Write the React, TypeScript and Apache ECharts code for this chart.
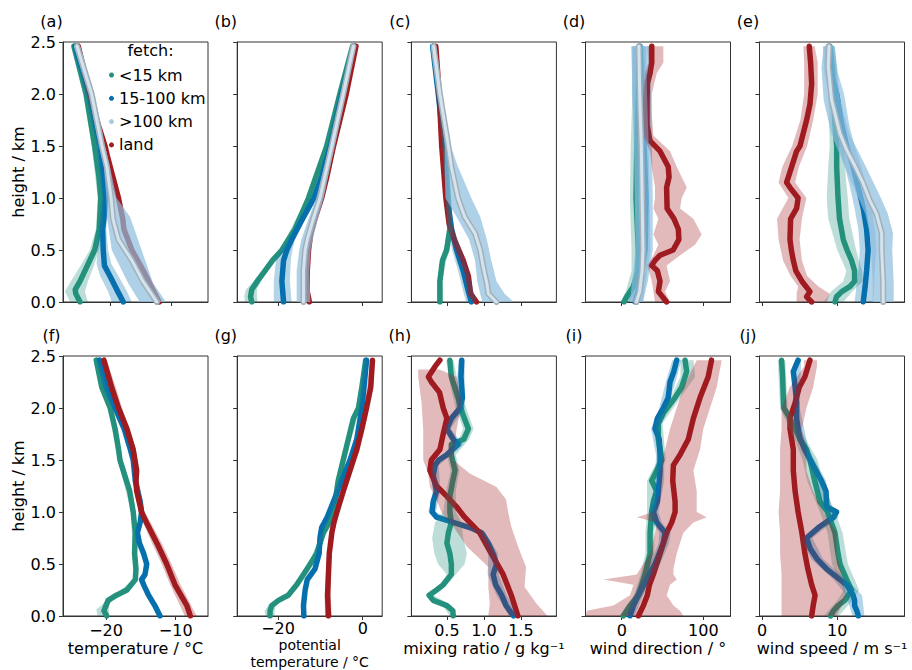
import React, { useEffect, useRef } from "react";
import * as echarts from "echarts";

type Pts = [number, number][]; // [x value, height km]
type Band = [number, number, number][]; // [height km, low, high]

// ---------- text / axes ----------
const panelLabels = ["(a)", "(b)", "(c)", "(d)", "(e)", "(f)", "(g)", "(h)", "(i)", "(j)"];
const heightTicks = [0, 0.5, 1, 1.5, 2, 2.5];
const xTitles = [
  "temperature / °C",
  "potential\ntemperature / °C",
  "mixing ratio / g kg⁻¹",
  "wind direction / °",
  "wind speed / m s⁻¹",
];
const xTickValues = [[-20, -10], [-20, 0], [0.5, 1, 1.5], [0, 100], [0, 10]];
const xRangesTop = [[-27.7, -3.9], [-29.65, 4.6], [0.02, 1.98], [-44.4, 133.3], [-0.33, 18.93]];
const xRangesBottom = [[-26.17, -5.37], [-29.65, 4.6], [0.02, 1.98], [-44.4, 133.3], [-0.33, 18.93]];
const legendNames = ["<15 km", "15-100 km", ">100 km", "land"];

// ---------- (a) temperature, top row ----------
const aGreen: Pts = [[-24.9, 0], [-25.6, 0.08], [-25.7, 0.12], [-24.9, 0.2], [-23.7, 0.35], [-22.5, 0.5], [-21.75, 0.7], [-21.5, 1.0], [-21.8, 1.2], [-22.5, 1.5], [-23.9, 2.0], [-25.9, 2.46]];
const aBlue: Pts = [[-17.8, 0], [-18.7, 0.1], [-20.0, 0.25], [-20.9, 0.35], [-21.1, 0.5], [-21.2, 0.7], [-21.0, 0.8], [-20.7, 1.0], [-21.0, 1.2], [-21.6, 1.5], [-23.4, 2.0], [-25.7, 2.46]];
const aFar: Pts = [[-12.3, 0], [-14.6, 0.2], [-16.4, 0.4], [-18.6, 0.6], [-19.5, 0.8], [-19.8, 1.0], [-20.5, 1.3], [-21.3, 1.5], [-23.0, 2.0], [-25.4, 2.46]];
const aLand: Pts = [[-11.9, 0], [-12.8, 0.1], [-14.5, 0.3], [-16.4, 0.5], [-17.7, 0.7], [-17.9, 0.8], [-18.6, 1.0], [-19.5, 1.2], [-20.4, 1.4], [-20.8, 1.5], [-21.9, 1.7], [-23.3, 2.0], [-25.2, 2.46]];
const aGreenBand: Band = [[0, -26.5, -23.6], [0.1, -27.4, -24.1], [0.2, -26.4, -23.6], [0.35, -24.8, -22.6], [0.5, -23.3, -21.8], [0.7, -22.3, -21.2], [1.0, -22.0, -21.0], [1.5, -23.0, -22.0], [2.0, -24.4, -23.4], [2.46, -26.4, -25.4]];
const aBlueBand: Band = [[0, -19.7, -16.4], [0.1, -20.3, -17.2], [0.25, -21.6, -18.6], [0.37, -22.2, -19.8], [0.5, -22.0, -20.3], [0.7, -21.9, -20.6], [1.0, -21.3, -20.1], [1.5, -22.2, -21.0], [2.0, -24.0, -22.8], [2.46, -26.2, -25.2]];
const aFarBand: Band = [[0, -15.1, -10.8], [0.18, -17.0, -12.9], [0.5, -19.7, -14.8], [0.82, -20.5, -16.7], [1.0, -20.6, -18.9], [1.3, -21.0, -20.0], [1.5, -21.8, -20.8], [2.0, -23.5, -22.5], [2.46, -25.9, -24.9]];

// ---------- (b) potential temperature, top row ----------
const bGreen: Pts = [[-26.2, 0], [-26.5, 0.05], [-26.2, 0.12], [-24.9, 0.2], [-23.1, 0.3], [-21.3, 0.4], [-19.1, 0.5], [-16.0, 0.7], [-12.8, 1.0], [-8.5, 1.5], [-5.4, 2.0], [-2.4, 2.46]];
const bBlue: Pts = [[-18.7, 0], [-19.1, 0.2], [-18.7, 0.4], [-17.9, 0.5], [-16.8, 0.6], [-14.2, 0.8], [-11.5, 1.0], [-9.7, 1.2], [-7.7, 1.5], [-5.0, 2.0], [-2.05, 2.46]];
const bFar: Pts = [[-14.0, 0], [-14.0, 0.3], [-13.6, 0.5], [-13.1, 0.6], [-11.7, 0.8], [-10.1, 1.0], [-7.3, 1.5], [-4.6, 2.0], [-2.2, 2.46]];
const bLand: Pts = [[-12.6, 0], [-13.1, 0.1], [-13.1, 0.3], [-12.8, 0.5], [-12.3, 0.65], [-11.3, 0.8], [-9.7, 1.0], [-8.5, 1.2], [-6.9, 1.5], [-3.9, 2.0], [-1.6, 2.46]];
const bGreenBand: Band = [[0, -27.8, -24.8], [0.05, -28.0, -25.0], [0.12, -27.6, -25.0], [0.2, -25.8, -24.0], [0.3, -23.8, -22.4], [0.5, -19.6, -18.6], [1.0, -13.2, -12.4], [1.5, -8.9, -8.1], [2.0, -5.8, -5.0], [2.46, -2.8, -2.0]];
const bBlueBand: Band = [[0, -21.0, -16.8], [0.2, -21.0, -17.2], [0.4, -20.5, -17.0], [0.5, -19.3, -16.6], [0.6, -17.6, -16.0], [0.8, -14.7, -13.7], [1.0, -12.0, -11.0], [1.5, -8.2, -7.2], [2.0, -5.5, -4.5], [2.46, -2.5, -1.6]];
const bFarBand: Band = [[0, -15.6, -12.4], [0.3, -15.6, -12.6], [0.5, -15.0, -12.3], [0.6, -14.5, -11.8], [0.8, -12.8, -10.6], [1.0, -11.0, -9.2], [1.5, -7.9, -6.7], [2.0, -5.1, -4.1], [2.46, -2.7, -1.7]];

// ---------- (c) mixing ratio, top row ----------
const cGreen: Pts = [[0.405, 0], [0.405, 0.2], [0.44, 0.4], [0.496, 0.5], [0.54, 0.7], [0.518, 1.0], [0.473, 1.5], [0.396, 2.0], [0.315, 2.46]];
const cBlue: Pts = [[0.83, 0], [0.79, 0.1], [0.72, 0.3], [0.63, 0.5], [0.563, 0.7], [0.505, 1.0], [0.46, 1.5], [0.383, 2.0], [0.307, 2.46]];
const cFar: Pts = [[1.17, 0], [1.06, 0.08], [1.04, 0.18], [0.99, 0.34], [0.95, 0.5], [0.88, 0.66], [0.74, 0.82], [0.65, 1.0], [0.56, 1.3], [0.52, 1.5], [0.405, 2.0], [0.32, 2.46]];
const cLand: Pts = [[0.9, 0], [0.82, 0.08], [0.79, 0.25], [0.72, 0.4], [0.6, 0.6], [0.53, 0.75], [0.486, 1.0], [0.43, 1.5], [0.396, 2.0], [0.35, 2.46]];
const cGreenBand: Band = [[0, 0.37, 0.45], [0.2, 0.37, 0.44], [0.4, 0.41, 0.49], [0.5, 0.46, 0.54], [0.7, 0.5, 0.58], [1.0, 0.49, 0.55], [1.5, 0.44, 0.51], [2.0, 0.37, 0.43], [2.46, 0.29, 0.34]];
const cBlueBand: Band = [[0, 0.76, 0.9], [0.1, 0.72, 0.86], [0.3, 0.65, 0.79], [0.5, 0.57, 0.69], [0.7, 0.52, 0.6], [1.0, 0.48, 0.53], [1.5, 0.44, 0.48], [2.0, 0.36, 0.4], [2.46, 0.29, 0.33]];
const cFarBand: Band = [[0, 0.98, 1.4], [0.08, 0.95, 1.28], [0.2, 0.91, 1.17], [0.4, 0.88, 1.1], [0.6, 0.8, 1.04], [0.82, 0.63, 0.95], [1.0, 0.48, 0.83], [1.3, 0.47, 0.65], [1.5, 0.47, 0.55], [1.7, 0.44, 0.5], [2.0, 0.38, 0.44], [2.46, 0.3, 0.35]];

// ---------- (d) wind direction, top row ----------
const dGreen: Pts = [[2.8, 0], [6.1, 0.05], [14.3, 0.15], [20, 0.3], [20.4, 0.5], [17.5, 1.0], [18.4, 1.5], [20.4, 2.0], [21.6, 2.46]];
const dBlue: Pts = [[16.3, 0], [20.4, 0.1], [24.5, 0.3], [28.6, 0.5], [29.8, 1.0], [27.3, 1.5], [24.5, 2.0], [22.4, 2.46]];
const dFar: Pts = [[18, 0], [22, 0.1], [25, 0.3], [26, 0.5], [25, 1.0], [24, 1.5], [22, 2.0], [21, 2.46]];
const dLand: Pts = [[55, 0], [44.9, 0.1], [46.9, 0.2], [43.7, 0.3], [36.8, 0.35], [40.8, 0.4], [47, 0.45], [63, 0.5], [70, 0.6], [69.4, 0.7], [64, 0.8], [55.6, 0.9], [55, 1.1], [58, 1.2], [57, 1.3], [46.9, 1.45], [34.7, 1.55], [31, 1.7], [31, 1.9], [31.4, 2.1], [34.7, 2.2], [36.8, 2.3], [36.8, 2.46]];
const dGreenBand: Band = [[0, -2, 8], [0.1, 5, 20], [0.3, 12, 27], [0.5, 12, 28], [1.0, 10, 26], [1.5, 11, 27], [2.0, 13, 28], [2.46, 14, 29]];
const dBlueBand: Band = [[0, 8, 26], [0.2, 14, 32], [0.5, 18, 38], [1.0, 19, 38], [1.5, 16, 37], [2.0, 13, 36], [2.46, 12, 34]];
const dFarBand: Band = [[0, 10, 26], [0.5, 17, 35], [1.0, 16, 34], [1.5, 15, 33], [2.0, 13, 31], [2.46, 12, 30]];
const dLandBand: Band = [[0, 40.8, 59.2], [0.1, 38.8, 53], [0.2, 36.8, 59.2], [0.35, 31.4, 55], [0.45, 38.8, 71.5], [0.55, 44.9, 89.8], [0.65, 38.8, 98], [0.8, 44.9, 87.8], [0.9, 38.8, 71.5], [1.0, 40.8, 73.5], [1.1, 40.8, 79.7], [1.3, 36.8, 67.4], [1.45, 34.7, 59.2], [1.6, 26.5, 38.8], [1.8, 24.5, 36.8], [2.0, 26.5, 36.8], [2.2, 28.6, 42.9], [2.3, 32.6, 51], [2.46, 31.4, 51]];

// ---------- (e) wind speed, top row ----------
const eGreen: Pts = [[9.7, 0], [9.9, 0.05], [10.6, 0.1], [11.7, 0.15], [12.3, 0.2], [12.3, 0.3], [11.9, 0.4], [11.3, 0.5], [10.8, 0.6], [10.3, 0.8], [10.1, 1.0], [9.92, 1.3], [9.92, 1.5], [9.7, 1.7], [9.47, 2.0], [9.4, 2.2], [9.03, 2.46]];
const eBlue: Pts = [[13.45, 0], [13.7, 0.15], [13.9, 0.3], [14.1, 0.5], [13.9, 0.7], [13.45, 0.9], [12.8, 1.1], [12.1, 1.3], [11.25, 1.5], [10.6, 1.7], [9.92, 2.0], [9.2, 2.2], [8.85, 2.46]];
const eFar: Pts = [[16.1, 0], [16.1, 0.18], [15.9, 0.5], [15.9, 0.66], [15.2, 0.85], [14.3, 0.98], [13.45, 1.14], [12.4, 1.3], [11.25, 1.46], [10.36, 1.62], [9.25, 1.94], [8.8, 2.26], [8.9, 2.46]];
const eLand: Pts = [[6.6, 0], [5.93, 0.05], [6.37, 0.1], [5.3, 0.2], [4.5, 0.3], [4.16, 0.4], [3.9, 0.5], [3.72, 0.6], [3.8, 0.8], [4.6, 0.9], [4.8, 1.0], [3.72, 1.1], [3.27, 1.15], [3.5, 1.2], [4.16, 1.35], [4.6, 1.45], [5.05, 1.5], [5.4, 1.6], [5.93, 1.75], [6.37, 1.9], [6.6, 2.1], [6.46, 2.3], [6.28, 2.46]];
const eGreenBand: Band = [[0, 8.2, 10.8], [0.1, 9.2, 12.0], [0.2, 10.8, 13.4], [0.3, 11.2, 13.3], [0.5, 10.0, 12.5], [0.8, 8.8, 11.6], [1.0, 8.6, 11.4], [1.3, 8.8, 11.0], [1.5, 9.0, 10.9], [2.0, 8.8, 10.2], [2.46, 8.4, 9.7]];
const eBlueBand: Band = [[0, 12.3, 14.8], [0.3, 12.8, 15.0], [0.5, 13.0, 15.2], [0.7, 12.8, 15.0], [0.9, 12.3, 14.6], [1.1, 11.7, 13.9], [1.3, 11.0, 13.2], [1.5, 10.2, 12.3], [1.7, 9.6, 11.6], [2.0, 8.9, 10.9], [2.2, 8.3, 10.1], [2.46, 8.1, 9.6]];
const eFarBand: Band = [[0, 14.7, 17.5], [0.18, 14.7, 17.5], [0.5, 14.5, 17.3], [0.66, 14.3, 17.4], [0.85, 13.7, 16.7], [1.0, 12.8, 15.8], [1.3, 11.0, 13.8], [1.62, 9.2, 11.6], [1.94, 8.2, 10.4], [2.26, 7.9, 9.8], [2.46, 8.2, 9.6]];
const eLandBand: Band = [[0, 4.6, 8.6], [0.08, 4.6, 9.0], [0.15, 4.8, 7.5], [0.25, 3.8, 6.0], [0.4, 2.8, 5.3], [0.6, 2.2, 5.0], [0.8, 2.0, 5.3], [1.0, 3.5, 5.9], [1.15, 2.2, 4.4], [1.3, 2.7, 4.9], [1.5, 4.0, 6.0], [1.75, 5.1, 6.8], [2.0, 5.6, 7.4], [2.3, 5.6, 7.4], [2.46, 5.5, 7.0]];

// ---------- (f) temperature, bottom row ----------
const fGreen: Pts = [[-19.9, 0], [-20.3, 0.05], [-20.0, 0.1], [-19.7, 0.15], [-18.5, 0.2], [-17.0, 0.25], [-15.8, 0.35], [-15.7, 0.45], [-15.9, 0.6], [-15.8, 0.8], [-16.1, 1.0], [-16.6, 1.2], [-17.3, 1.35], [-18.0, 1.5], [-18.2, 1.6], [-18.7, 1.8], [-19.4, 2.0], [-20.6, 2.2], [-21.4, 2.46]];
const fBlue: Pts = [[-12.25, 0], [-13.0, 0.1], [-13.9, 0.2], [-14.6, 0.3], [-14.9, 0.35], [-14.4, 0.4], [-14.16, 0.5], [-14.6, 0.6], [-15.2, 0.7], [-15.5, 0.8], [-15.1, 0.9], [-14.9, 1.0], [-15.1, 1.1], [-15.8, 1.3], [-16.1, 1.5], [-16.5, 1.6], [-17.4, 1.8], [-18.7, 2.0], [-20.0, 2.2], [-20.95, 2.46]];
const fLand: Pts = [[-7.9, 0], [-8.4, 0.1], [-10.1, 0.3], [-11.3, 0.5], [-12.7, 0.7], [-14.2, 0.9], [-14.9, 1.0], [-15.6, 1.2], [-15.7, 1.3], [-15.6, 1.4], [-16.1, 1.6], [-17.0, 1.8], [-18.2, 2.0], [-19.2, 2.2], [-20.3, 2.46]];
const fGreenBand: Band = [[0, -21.2, -19.5], [0.06, -21.4, -19.6], [0.12, -20.4, -19.5], [0.2, -18.8, -18.2], [0.35, -16.1, -15.5], [0.6, -16.2, -15.6], [1.0, -16.4, -15.8], [1.5, -18.3, -17.7], [2.0, -19.7, -19.1], [2.46, -21.7, -21.1]];
const fLandBand: Band = [[0, -8.7, -7.0], [0.3, -10.8, -9.3], [0.5, -12.0, -10.6], [0.7, -13.4, -12.0], [0.9, -14.7, -13.6], [1.0, -15.3, -14.5], [1.3, -16.1, -15.3], [1.6, -16.5, -15.7], [2.0, -18.6, -17.7], [2.2, -19.6, -18.6], [2.46, -20.7, -19.9]];

// ---------- (g) potential temperature, bottom row ----------
const gGreen: Pts = [[-21.9, 0], [-21.9, 0.05], [-21.5, 0.1], [-19.9, 0.15], [-17.6, 0.2], [-15.6, 0.3], [-14.0, 0.4], [-12.4, 0.5], [-10.9, 0.6], [-9.3, 0.8], [-7.9, 0.9], [-6.5, 1.1], [-5.8, 1.3], [-4.6, 1.5], [-3.4, 1.7], [-2.2, 1.9], [-1.0, 2.0], [-0.2, 2.2], [0.7, 2.46]];
const gBlue: Pts = [[-13.9, 0], [-14.0, 0.1], [-13.6, 0.25], [-13.1, 0.35], [-11.3, 0.45], [-10.3, 0.6], [-10.1, 0.75], [-9.7, 0.85], [-8.4, 0.95], [-6.9, 1.1], [-5.0, 1.3], [-3.0, 1.5], [-1.4, 1.7], [-0.2, 2.0], [0.3, 2.2], [0.9, 2.46]];
const gLand: Pts = [[-8.1, 0], [-8.3, 0.2], [-8.1, 0.4], [-7.9, 0.6], [-7.3, 0.8], [-6.8, 0.9], [-6.1, 1.0], [-4.6, 1.2], [-3.0, 1.4], [-1.4, 1.6], [-0.2, 1.8], [0.9, 2.0], [1.9, 2.2], [2.3, 2.46]];
const gGreenBand: Band = [[0, -23.0, -20.8], [0.05, -23.2, -20.8], [0.1, -22.3, -20.6], [0.15, -20.4, -19.4], [0.2, -18.0, -17.2], [0.5, -12.8, -12.0], [1.0, -7.6, -6.8], [1.5, -5.0, -4.2], [2.0, -1.4, -0.6], [2.46, 0.3, 1.1]];
const gLandBand: Band = [[0, -8.9, -7.3], [0.2, -9.0, -7.6], [0.4, -8.7, -7.5], [0.6, -8.4, -7.4], [0.8, -7.8, -6.8], [1.0, -6.6, -5.6], [1.4, -3.5, -2.5], [2.0, 0.4, 1.4], [2.46, 1.8, 2.8]];

// ---------- (h) mixing ratio, bottom row ----------
const hGreen: Pts = [[0.585, 0], [0.58, 0.05], [0.5, 0.1], [0.315, 0.15], [0.26, 0.2], [0.36, 0.25], [0.45, 0.3], [0.56, 0.4], [0.56, 0.5], [0.54, 0.6], [0.5, 0.7], [0.52, 0.8], [0.56, 0.9], [0.54, 1.0], [0.54, 1.15], [0.58, 1.3], [0.61, 1.4], [0.56, 1.55], [0.56, 1.65], [0.73, 1.7], [0.79, 1.8], [0.71, 1.95], [0.65, 2.1], [0.56, 2.3], [0.54, 2.46]];
const hBlue: Pts = [[1.4, 0], [1.3, 0.1], [1.24, 0.2], [1.16, 0.3], [1.125, 0.4], [1.17, 0.5], [1.125, 0.6], [1.06, 0.7], [0.97, 0.8], [0.81, 0.85], [0.585, 0.9], [0.36, 0.95], [0.3, 1.0], [0.315, 1.1], [0.36, 1.2], [0.315, 1.35], [0.34, 1.45], [0.39, 1.5], [0.5, 1.55], [0.65, 1.65], [0.585, 1.7], [0.5, 1.8], [0.56, 1.9], [0.68, 2.0], [0.71, 2.1], [0.69, 2.3], [0.7, 2.46]];
const hLand: Pts = [[1.46, 0], [1.37, 0.2], [1.26, 0.4], [1.1, 0.6], [0.945, 0.8], [0.74, 0.95], [0.63, 1.05], [0.5, 1.15], [0.36, 1.25], [0.27, 1.4], [0.29, 1.5], [0.405, 1.6], [0.45, 1.75], [0.5, 1.9], [0.45, 2.0], [0.4, 2.15], [0.29, 2.25], [0.25, 2.3], [0.34, 2.4], [0.405, 2.46]];
const hGreenBand: Band = [[0, 0.54, 0.63], [0.1, 0.44, 0.56], [0.2, 0.22, 0.32], [0.3, 0.4, 0.5], [0.4, 0.5, 0.62], [0.5, 0.38, 0.74], [0.6, 0.33, 0.77], [0.75, 0.3, 0.72], [0.9, 0.34, 0.7], [1.0, 0.45, 0.62], [1.2, 0.49, 0.62], [1.4, 0.55, 0.67], [1.55, 0.5, 0.62], [1.7, 0.66, 0.8], [1.8, 0.72, 0.86], [2.0, 0.62, 0.76], [2.2, 0.55, 0.66], [2.46, 0.49, 0.59]];
const hBlueBand: Band = [[0, 1.34, 1.46], [0.2, 1.17, 1.31], [0.4, 1.05, 1.2], [0.6, 1.06, 1.19], [0.8, 0.92, 1.02], [0.85, 0.76, 0.86], [0.9, 0.53, 0.64], [1.0, 0.25, 0.35], [1.2, 0.31, 0.41], [1.45, 0.29, 0.39], [1.55, 0.44, 0.56], [1.65, 0.58, 0.72], [1.8, 0.45, 0.55], [2.0, 0.62, 0.74], [2.3, 0.64, 0.74], [2.46, 0.66, 0.74]];
const hLandBand: Band = [[0, 1.06, 1.86], [0.12, 1.08, 1.71], [0.28, 1.06, 1.55], [0.47, 1.06, 1.57], [0.67, 0.766, 1.46], [0.86, 0.585, 1.37], [0.99, 0.43, 1.33], [1.12, 0.36, 1.3], [1.24, 0.27, 1.17], [1.37, 0.247, 0.81], [1.5, 0.18, 0.585], [1.79, 0.18, 0.63], [2.05, 0.157, 0.7], [2.3, 0.112, 0.63], [2.37, 0.112, 0.4]];

// ---------- (i) wind direction, bottom row ----------
const iGreen: Pts = [[2, 0], [10.2, 0.1], [20.4, 0.2], [28.5, 0.4], [34.7, 0.6], [34.7, 0.8], [36.7, 1.0], [38.8, 1.1], [42.9, 1.2], [36.7, 1.3], [42.9, 1.4], [49, 1.5], [44.9, 1.7], [44.9, 1.85], [51, 1.95], [65.4, 2.1], [73.5, 2.2], [79.6, 2.35], [77.6, 2.46]];
const iBlue: Pts = [[10.2, 0], [14.3, 0.1], [20.4, 0.2], [30.6, 0.35], [40.8, 0.5], [51, 0.7], [53, 0.8], [42.9, 0.9], [38.8, 1.0], [43.7, 1.1], [46, 1.3], [47, 1.4], [47, 1.55], [46, 1.7], [40.8, 1.8], [43.7, 1.9], [51, 2.0], [57, 2.1], [59.2, 2.25], [63.8, 2.35], [67.4, 2.46]];
const iLand: Pts = [[20.4, 0], [26.5, 0.1], [31.4, 0.2], [34, 0.3], [38.8, 0.4], [47, 0.6], [55.1, 0.8], [61.3, 0.9], [65.4, 1.0], [65.4, 1.1], [62.5, 1.3], [63.3, 1.45], [71.5, 1.55], [81.6, 1.7], [87.8, 1.9], [96, 2.1], [106, 2.3], [110, 2.46]];
const iGreenBand: Band = [[0, -3, 7], [0.2, 15, 26], [0.4, 23, 34], [0.6, 29, 40], [0.8, 29, 40], [1.0, 31, 42], [1.3, 31, 42], [1.5, 44, 54], [1.85, 40, 50], [2.1, 60, 72], [2.3, 72, 90], [2.46, 72, 88]];
const iBlueBand: Band = [[0, 5, 16], [0.2, 15, 26], [0.5, 35, 47], [0.7, 45, 58], [0.8, 46, 60], [0.9, 37, 49], [1.0, 33, 45], [1.3, 41, 52], [1.55, 42, 52], [1.8, 36, 46], [2.0, 46, 56], [2.25, 54, 66], [2.46, 62, 73]];
const iLandBand: Band = [[0, -44, 75.5], [0.05, -42.9, 71.5], [0.1, -10.3, 63.3], [0.2, 10.2, 55.1], [0.3, 14.3, 59.2], [0.35, -22.5, 67.4], [0.4, 18.4, 63.3], [0.45, 22.4, 63.3], [0.6, 34.7, 67.4], [0.8, 40.8, 75.5], [0.9, 42.9, 87.8], [0.95, 18.4, 104.1], [1.0, 38.8, 91.9], [1.2, 47, 91.9], [1.4, 47, 87.8], [1.6, 53, 96], [1.8, 59.2, 100], [2.0, 67.4, 108.2], [2.2, 75.5, 116.4], [2.46, 91.9, 122.5]];

// ---------- (j) wind speed, bottom row ----------
const jGreen: Pts = [[9.1, 0], [9.5, 0.05], [10.1, 0.1], [11.0, 0.15], [11.9, 0.25], [11.25, 0.35], [10.36, 0.5], [10.1, 0.6], [9.7, 0.8], [9.2, 0.9], [8.7, 1.0], [7.7, 1.1], [7.0, 1.3], [6.37, 1.5], [5.93, 1.6], [5.05, 1.7], [4.4, 1.8], [3.72, 1.9], [2.9, 2.0], [2.83, 2.1], [2.74, 2.3], [2.6, 2.46]];
const jBlue: Pts = [[12.8, 0], [12.6, 0.05], [12.3, 0.1], [12.3, 0.15], [12.1, 0.2], [11.25, 0.3], [10.36, 0.35], [8.6, 0.45], [7.3, 0.55], [6.4, 0.65], [5.93, 0.75], [7.5, 0.85], [9.5, 0.95], [9.9, 1.0], [8.6, 1.05], [8.5, 1.2], [7.9, 1.3], [6.8, 1.45], [5.7, 1.6], [5.05, 1.7], [4.8, 1.8], [4.6, 1.9], [4.6, 2.05], [4.4, 2.2], [4.16, 2.35], [4.8, 2.46]];
const jLand: Pts = [[6.6, 0], [6.8, 0.1], [7.05, 0.2], [6.6, 0.3], [6.1, 0.45], [5.7, 0.6], [5.3, 0.8], [4.8, 1.0], [4.4, 1.2], [4.16, 1.4], [4.16, 1.6], [3.72, 1.8], [3.72, 1.9], [4.4, 2.05], [4.95, 2.2], [5.7, 2.3], [6.37, 2.46]];
const jGreenBand: Band = [[0, 8.2, 10.2], [0.15, 10.0, 12.0], [0.25, 10.9, 12.9], [0.5, 9.3, 11.4], [0.8, 8.7, 10.7], [1.0, 7.7, 9.7], [1.3, 6.0, 8.0], [1.5, 5.4, 7.4], [1.7, 4.3, 5.8], [2.0, 2.4, 3.4], [2.46, 2.1, 3.1]];
const jBlueBand: Band = [[0, 12.0, 13.6], [0.2, 11.2, 13.3], [0.35, 9.5, 11.2], [0.55, 6.5, 8.1], [0.75, 5.2, 6.7], [0.95, 8.8, 10.2], [1.05, 8.0, 9.2], [1.3, 7.3, 8.5], [1.6, 5.2, 6.2], [2.0, 4.2, 5.0], [2.46, 4.4, 5.2]];
const jLandBand: Band = [[0, 2.6, 9.9], [0.1, 2.6, 10.6], [0.2, 2.6, 11.2], [0.4, 2.6, 10.6], [0.6, 2.4, 9.9], [0.8, 2.4, 9.9], [1.0, 2.2, 8.2], [1.2, 2.4, 6.8], [1.4, 2.4, 5.9], [1.6, 2.4, 5.9], [1.8, 2.6, 5.3], [2.0, 2.6, 5.9], [2.2, 3.7, 6.8], [2.4, 5.6, 7.3], [2.46, 5.6, 7.3]];

// ---------- panel assembly ----------
type Panel = { green: Pts; blue: Pts; far?: Pts; land: Pts; greenBand?: Band; blueBand?: Band; farBand?: Band; landBand?: Band };
const panels: Panel[] = [
  { green: aGreen, blue: aBlue, far: aFar, land: aLand, greenBand: aGreenBand, blueBand: aBlueBand, farBand: aFarBand },
  { green: bGreen, blue: bBlue, far: bFar, land: bLand, greenBand: bGreenBand, blueBand: bBlueBand, farBand: bFarBand },
  { green: cGreen, blue: cBlue, far: cFar, land: cLand, greenBand: cGreenBand, blueBand: cBlueBand, farBand: cFarBand },
  { green: dGreen, blue: dBlue, far: dFar, land: dLand, greenBand: dGreenBand, blueBand: dBlueBand, farBand: dFarBand, landBand: dLandBand },
  { green: eGreen, blue: eBlue, far: eFar, land: eLand, greenBand: eGreenBand, blueBand: eBlueBand, farBand: eFarBand, landBand: eLandBand },
  { green: fGreen, blue: fBlue, land: fLand, greenBand: fGreenBand, landBand: fLandBand },
  { green: gGreen, blue: gBlue, land: gLand, greenBand: gGreenBand, landBand: gLandBand },
  { green: hGreen, blue: hBlue, land: hLand, greenBand: hGreenBand, blueBand: hBlueBand, landBand: hLandBand },
  { green: iGreen, blue: iBlue, land: iLand, greenBand: iGreenBand, blueBand: iBlueBand, landBand: iLandBand },
  { green: jGreen, blue: jBlue, land: jLand, greenBand: jGreenBand, blueBand: jBlueBand, landBand: jLandBand },
];

const FONT = "DejaVu Sans";
const FS = 16;
const GREEN = "#25917d";
const BLUE = "#066fae";
const RED = "#a01c20";
const FARC = "#a6cee3";
const LEFTS = [63, 237.2, 411.4, 585.5, 759.5];
const TOPS = [42, 356];
const W = 145;
const H = 260;

function fmtX(col: number) {
  return (v: number) => (col === 2 ? v.toFixed(1) : String(v).replace("-", "\u2212"));
}

function lineSeries(i: number, name: string, data: Pts, color: string, legendColor: string, width: number, z: number) {
  return {
    type: "line",
    name,
    xAxisIndex: i,
    yAxisIndex: i,
    data,
    showSymbol: false,
    symbol: "none",
    silent: true,
    z,
    itemStyle: { color: legendColor },
    lineStyle: { width, color, cap: "round", join: "round" },
  };
}

function bandSeries(i: number, band: Band, fill: string) {
  return {
    type: "custom",
    xAxisIndex: i,
    yAxisIndex: i,
    data: band,
    encode: { x: [1, 2], y: 0 },
    silent: true,
    z: 3,
    renderItem: (params: any, api: any) => {
      if (params.dataIndex !== 0) return null;
      const leftSide = band.map((r) => api.coord([r[1], r[0]]));
      const rightSide = band.slice().reverse().map((r) => api.coord([r[2], r[0]]));
      return { type: "polygon", shape: { points: leftSide.concat(rightSide) }, style: { fill } };
    },
  };
}

function buildOption() {
  const grid: any[] = [];
  const xAxis: any[] = [];
  const yAxis: any[] = [];
  const series: any[] = [];
  const graphic: any[] = [];
  panels.forEach((p, i) => {
    const row = Math.floor(i / 5);
    const col = i % 5;
    const range = row === 0 ? xRangesTop[col] : xRangesBottom[col];
    const twoLine = col === 1;
    grid.push({
      left: LEFTS[col], top: TOPS[row], width: W, height: H,
      show: true, borderColor: "#333", borderWidth: 1, backgroundColor: "transparent",
      containLabel: false, outerBoundsMode: "none",
    });
    xAxis.push({
      type: "value",
      gridIndex: i,
      min: range[0],
      max: range[1],
      axisLine: { show: true, onZero: false, lineStyle: { color: "#333", width: 1 } },
      axisTick: { show: true, customValues: xTickValues[col], length: 4, lineStyle: { color: "#333" } },
      axisLabel: {
        show: row === 1, customValues: xTickValues[col], formatter: fmtX(col),
        fontSize: FS, fontFamily: FONT, color: "#000",
        margin: twoLine ? 4 : 6, lineHeight: twoLine ? 16 : 17,
      },
      splitLine: { show: false },
      name: row === 1 ? xTitles[col] : "",
      nameLocation: "middle",
      nameGap: twoLine ? 21 : 22,
      nameTextStyle: {
        fontSize: twoLine ? 14 : FS, fontFamily: FONT, color: "#000",
        lineHeight: twoLine ? 16.5 : 17.5, verticalAlign: "top",
      },
    });
    yAxis.push({
      type: "value",
      gridIndex: i,
      min: 0,
      max: 2.5,
      axisLine: { show: true, onZero: false, lineStyle: { color: "#333", width: 1 } },
      axisTick: { show: true, customValues: heightTicks, length: 4, lineStyle: { color: "#333" } },
      axisLabel: { show: col === 0, customValues: heightTicks, formatter: (v: number) => v.toFixed(1), fontSize: FS, fontFamily: FONT, color: "#000", margin: 7 },
      splitLine: { show: false },
      name: col === 0 ? "height / km" : "",
      nameLocation: "middle",
      nameRotate: 90,
      nameGap: 34,
      nameTextStyle: { fontSize: FS, fontFamily: FONT, color: "#000" },
    });
    series.push(lineSeries(i, legendNames[0], p.green, GREEN, GREEN, 5.5, 2));
    series.push(lineSeries(i, legendNames[1], p.blue, BLUE, BLUE, 5.5, 2));
    series.push(lineSeries(i, legendNames[3], p.land, RED, RED, 5.5, 2));
    if (p.greenBand) series.push(bandSeries(i, p.greenBand, "rgba(37,145,125,0.3)"));
    if (p.blueBand) series.push(bandSeries(i, p.blueBand, "rgba(6,111,174,0.3)"));
    if (p.farBand) series.push(bandSeries(i, p.farBand, "rgba(140,190,222,0.7)"));
    if (p.landBand) series.push(bandSeries(i, p.landBand, "rgba(160,28,32,0.3)"));
    if (p.far) {
      series.push(lineSeries(i, legendNames[2], p.far, "#a3b0ba", FARC, 6, 4));
      series.push(lineSeries(i, "far-inner", p.far, "#d3e4ee", FARC, 3, 5));
    }
    graphic.push({
      type: "text",
      x: LEFTS[col] - 11.5,
      y: TOPS[row] - 21,
      style: { text: panelLabels[i], fontSize: FS, fontFamily: FONT, fill: "#000", align: "center", verticalAlign: "middle" },
    });
  });
  graphic.push({
    type: "text",
    x: 150.5,
    y: 50,
    style: { text: "fetch:", fontSize: FS, fontFamily: FONT, fill: "#000", align: "center", verticalAlign: "middle" },
  });
  const legendColors = [GREEN, BLUE, FARC, RED];
  return {
    animation: false,
    backgroundColor: "#ffffff",
    textStyle: { fontFamily: FONT },
    grid,
    xAxis,
    yAxis,
    series,
    graphic,
    legend: {
      data: legendNames.map((n, k) => ({ name: n, icon: "circle", itemStyle: { color: legendColors[k] } })),
      orient: "vertical",
      left: 109,
      top: 65.5,
      padding: 0,
      itemWidth: 5,
      itemHeight: 5,
      itemGap: 4.3,
      selectedMode: false,
      textStyle: { fontSize: FS, fontFamily: FONT, color: "#000", lineHeight: 19 },
    },
  };
}

export default function App() {
  const ref = useRef<HTMLDivElement>(null);
  useEffect(() => {
    if (!ref.current) return;
    const chart = echarts.init(ref.current, undefined, { renderer: "svg" });
    chart.setOption(buildOption() as any);
    return () => chart.dispose();
  }, []);
  return <div ref={ref} style={{ position: "fixed", left: 0, top: 0, width: 912, height: 670, background: "#fff" }} />;
}
